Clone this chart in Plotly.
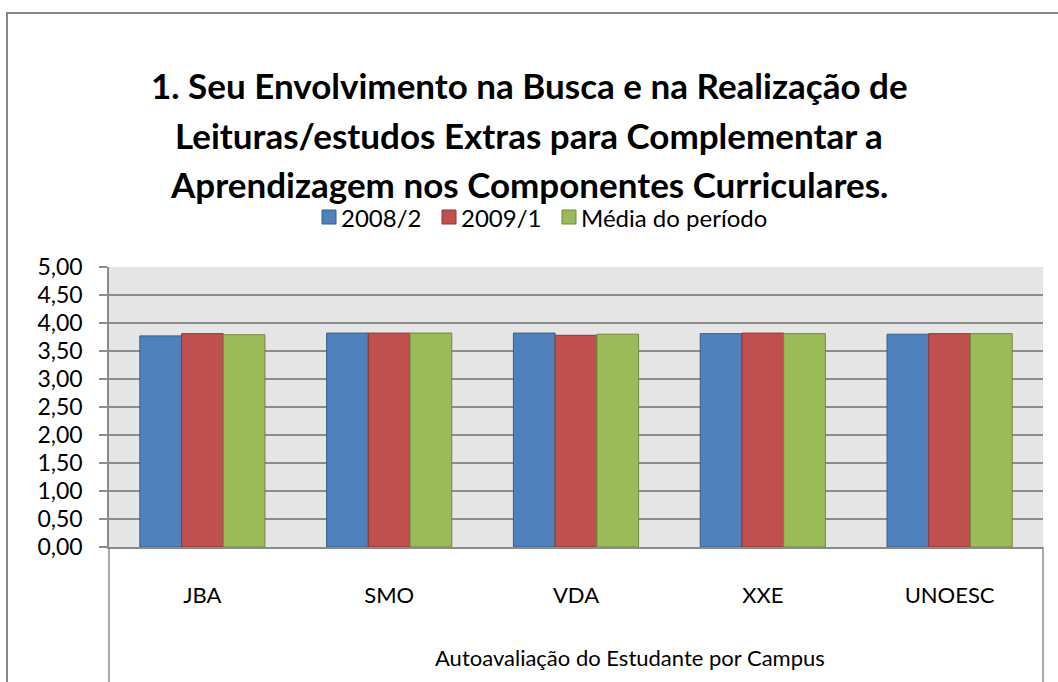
import plotly.graph_objects as go

categories = ["JBA", "SMO", "VDA", "XXE", "UNOESC"]
s2008_2 = [3.77, 3.82, 3.82, 3.81, 3.80]
s2009_1 = [3.81, 3.82, 3.78, 3.82, 3.81]
media = [3.79, 3.82, 3.80, 3.81, 3.81]
series_names = ["2008/2", "2009/1", "Média do período"]
title_lines = [
    "1. Seu Envolvimento na Busca e na Realização de",
    "Leituras/estudos Extras para Complementar a",
    "Aprendizagem nos Componentes Curriculares.",
]
x_title = "Autoavaliação do Estudante por Campus"
y_ticks = [0, 0.5, 1, 1.5, 2, 2.5, 3, 3.5, 4, 4.5, 5]

FONT = "Lato"
W, H = 1058, 682
L, R, T, B = 109, 1043, 267, 547

def px(x):
    return (x - L) / (R - L)

def py(y):
    return (B - y) / (B - T)

fills = ["#4f81bd", "#c0504d", "#9bbb59"]
edges = ["#385d8a", "#8c3836", "#71893f"]

fig = go.Figure()
for name, vals, f, e in zip(series_names, [s2008_2, s2009_1, media], fills, edges):
    fig.add_trace(go.Bar(x=categories, y=vals, name=name,
                         marker=dict(color=f, line=dict(color=e, width=1))))

fig.update_layout(
    width=W, height=H,
    margin=dict(l=L, r=W - R, t=T, b=H - B),
    paper_bgcolor="white",
    plot_bgcolor="#e6e6e6",
    separators=",.",
    font=dict(family=FONT, color="black"),
    bargap=0.33, bargroupgap=0,
    showlegend=False,
)
fig.update_yaxes(range=[0, 5], tickvals=y_ticks, tickformat=".2f",
                 showgrid=True, gridcolor="#8c8c8c", gridwidth=1.5,
                 ticks="outside", ticklen=8, tickcolor="#8c8c8c", tickwidth=1.5,
                 showline=True, linecolor="#8c8c8c", linewidth=1.5,
                 tickfont=dict(size=23, family=FONT), ticklabelstandoff=12,
                 zeroline=False, fixedrange=True)
fig.update_xaxes(showgrid=False, ticks="", showline=True, linecolor="#8c8c8c", linewidth=1.5,
                 tickfont=dict(size=22, family=FONT), ticklabelstandoff=28,
                 fixedrange=True)

# x-axis title (Excel places it slightly right of centre)
fig.add_annotation(text=x_title, xref="paper", yref="paper",
                   x=px(630), y=py(657), xanchor="center", yanchor="middle",
                   showarrow=False, font=dict(size=22, family=FONT, color="black"))

# title lines
for txt, yy in zip(title_lines, [85, 135, 184]):
    fig.add_annotation(text="<b>" + txt + "</b>", xref="paper", yref="paper",
                       x=px(529), y=py(yy), xanchor="center", yanchor="middle",
                       showarrow=False, font=dict(size=35, family=FONT, color="black"))

# custom legend: squares + labels
leg_sq_x = [322, 442, 562]
for name, f, e, sx in zip(series_names, fills, edges, leg_sq_x):
    fig.add_shape(type="rect", xref="paper", yref="paper",
                  x0=px(sx), x1=px(sx + 14), y0=py(224), y1=py(210),
                  fillcolor=f, line=dict(color=e, width=1))
    fig.add_annotation(text=name, xref="paper", yref="paper",
                       x=px(sx + 17), y=py(217), xanchor="left", yanchor="middle",
                       showarrow=False, font=dict(size=24, family=FONT, color="black"))

# outer chart border
fig.add_shape(type="rect", xref="paper", yref="paper",
              x0=px(7), x1=px(1070), y0=py(700), y1=py(13),
              line=dict(color="#868686", width=2), fillcolor="rgba(0,0,0,0)", layer="below")
# category axis extended dividers
for xx in [L, R]:
    fig.add_shape(type="line", xref="paper", yref="paper",
                  x0=px(xx), x1=px(xx), y0=py(B), y1=py(700),
                  line=dict(color="#8c8c8c", width=1.5))

fig.write_html("out.html", config={"displayModeBar": False},
               post_script="document.body.style.margin='0';")
